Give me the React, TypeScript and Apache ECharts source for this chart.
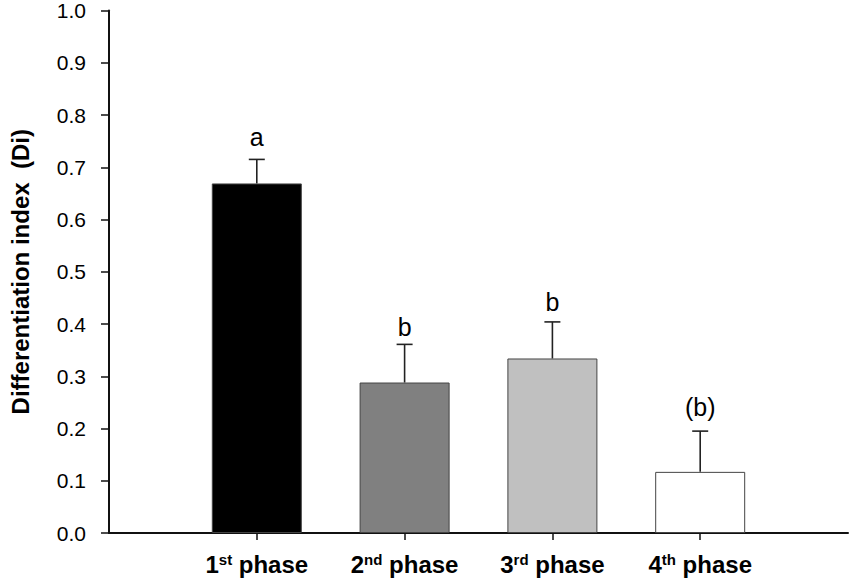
import React, { useEffect, useRef } from 'react';
import * as echarts from 'echarts';

const ordinals = ['1', '2', '3', '4'];
const suffixes = ['st', 'nd', 'rd', 'th'];
const means = [0.669, 0.288, 0.334, 0.117];
const errors = [0.046, 0.073, 0.07, 0.078];
const letters = ['a', 'b', 'b', '(b)'];
const letterY = [0.758, 0.395, 0.442, 0.242];
const barColors = ['#000000', '#808080', '#c0c0c0', '#ffffff'];
const yTitle = 'Differentiation index  (Di)';

const FONT = 'Arial, "Liberation Sans", Helvetica, sans-serif';

export default function App() {
  const ref = useRef<HTMLDivElement>(null);
  useEffect(() => {
    if (!ref.current) return;
    const chart = echarts.init(ref.current, undefined, { renderer: 'svg' });
    const positions = means.map((_, i) => i + 1);
    chart.setOption({
      animation: false,
      backgroundColor: '#ffffff',
      grid: { left: 100, right: 2, top: 10, bottom: 50 },
      xAxis: {
        type: 'value',
        min: 0,
        max: 5,
        interval: 1,
        splitLine: { show: false },
        axisLine: { show: true, lineStyle: { color: '#111', width: 2 } },
        axisTick: { show: true, customValues: positions, length: 7, lineStyle: { color: '#111', width: 1.5 } },
        axisLabel: {
          customValues: positions,
          margin: 19,
          formatter: (v: number) => {
            const i = Math.round(v) - 1;
            if (i < 0 || i >= ordinals.length) return '';
            return `{n|${ordinals[i]}}{s|${suffixes[i]}}{n| phase}`;
          },
          rich: {
            n: { fontSize: 24, fontWeight: 'bold', fontFamily: FONT, color: '#000', verticalAlign: 'bottom' },
            s: { fontSize: 15, fontWeight: 'bold', fontFamily: FONT, color: '#000', verticalAlign: 'top' },
          },
        },
      },
      yAxis: {
        type: 'value',
        min: 0,
        max: 1,
        interval: 0.1,
        name: yTitle,
        nameLocation: 'middle',
        nameGap: 77,
        nameTextStyle: { fontSize: 24, fontWeight: 'bold', fontFamily: FONT, color: '#000' },
        splitLine: { show: false },
        axisLine: { show: true, lineStyle: { color: '#111', width: 2 } },
        axisTick: { show: true, length: 8, lineStyle: { color: '#111', width: 1.5 } },
        axisLabel: {
          margin: 23,
          fontSize: 21,
          fontFamily: FONT,
          color: '#000',
          formatter: (v: number) => v.toFixed(1),
        },
      },
      series: [
        {
          type: 'bar',
          barWidth: 90,
          data: means.map((m, i) => ({
            value: [positions[i], m],
            itemStyle: { color: barColors[i], borderColor: '#444', borderWidth: 1 },
          })),
          z: 2,
        },
        {
          type: 'custom',
          z: 3,
          data: means.map((m, i) => [positions[i], m, errors[i]]),
          renderItem: (params: any, api: any) => {
            const x = api.value(0);
            const m = api.value(1);
            const e = api.value(2);
            const base = api.coord([x, m]);
            const top = api.coord([x, m + e]);
            const hw = 8;
            const st = { stroke: '#222', lineWidth: 1.6 };
            return {
              type: 'group',
              children: [
                { type: 'line', shape: { x1: base[0], y1: base[1], x2: top[0], y2: top[1] }, style: st },
                { type: 'line', shape: { x1: top[0] - hw, y1: top[1], x2: top[0] + hw, y2: top[1] }, style: st },
              ],
            };
          },
        },
        {
          type: 'custom',
          z: 4,
          data: letterY.map((y, i) => [positions[i], y]),
          renderItem: (params: any, api: any) => {
            const p = api.coord([api.value(0), api.value(1)]);
            return {
              type: 'text',
              x: p[0],
              y: p[1],
              style: {
                text: letters[params.dataIndex],
                fontSize: 25,
                fontFamily: FONT,
                fill: '#000',
                align: 'center',
                verticalAlign: 'middle',
              },
            };
          },
        },
      ],
    });
    return () => chart.dispose();
  }, []);
  return <div ref={ref} style={{ position: 'absolute', left: 0, top: 0, width: 850, height: 583 }} />;
}
